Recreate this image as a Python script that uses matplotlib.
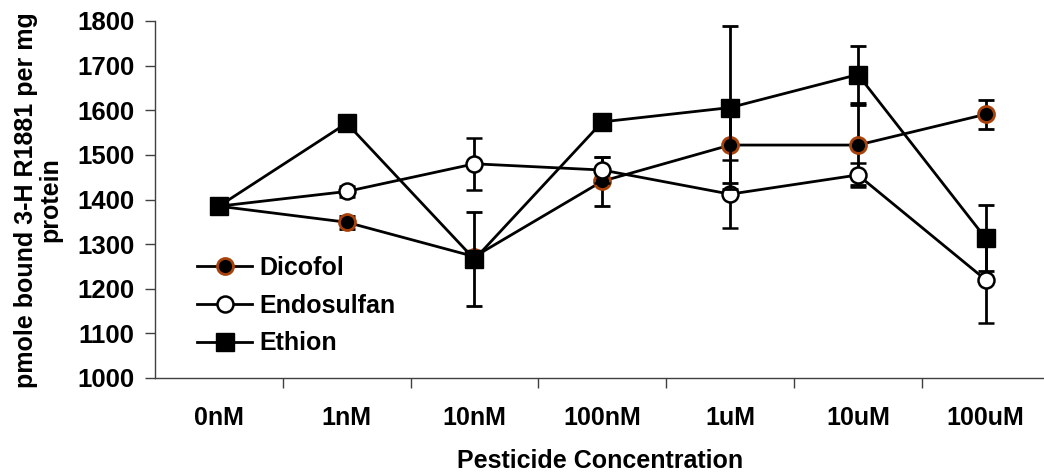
import numpy as np
import matplotlib
matplotlib.use("Agg")
from matplotlib import pyplot as plt
from matplotlib.ticker import FixedLocator
from matplotlib.lines import Line2D

plt.rcParams['font.family'] = ['Liberation Sans', 'DejaVu Sans']
plt.rcParams['font.weight'] = 'bold'

categories = ["0nM", "1nM", "10nM", "100nM", "1uM", "10uM", "100uM"]

dicofol = [1385, 1349, 1272, 1441, 1522, 1522, 1591]
dicofol_err = [5, 15, 10, 55, 85, 90, 33]

endosulfan = [1385, 1418, 1480, 1466, 1412, 1455, 1220]
endosulfan_err = [5, 12, 58, 30, 76, 27, 97]

ethion = [1385, 1571, 1266, 1574, 1606, 1680, 1313]
ethion_err = [5, 8, 105, 8, 183, 63, 74]

W, H = 1044, 472
FS = 18
fig = plt.figure(figsize=(W / 100, H / 100), dpi=100)
# axes: left spine at x=155, 1800 at y=21, 1000 at y=378; 7 slots of ~127.8 px
ax = fig.add_axes([155 / W, 1 - 378 / H, 7 * 127.8 / W, (378 - 21) / H])

x = np.arange(len(categories))

common = dict(color='black', linewidth=2.0, elinewidth=2.0, capsize=6, capthick=2.0)
dic_style = dict(marker='o', markersize=11.5, markerfacecolor='black',
                 markeredgecolor='#a8420a', markeredgewidth=2.0)
endo_style = dict(marker='o', markersize=11.5, markerfacecolor='white',
                  markeredgecolor='black', markeredgewidth=1.8)
eth_style = dict(marker='s', markersize=12.5, markerfacecolor='black',
                 markeredgecolor='black')

ax.errorbar(x, dicofol, yerr=dicofol_err, zorder=3, **dic_style, **common)
ax.errorbar(x, endosulfan, yerr=endosulfan_err, zorder=4, **endo_style, **common)
ax.errorbar(x, ethion, yerr=ethion_err, zorder=5, **eth_style, **common)

ax.set_xlim(-0.5, 6.5)
ax.set_ylim(1000, 1800)
ax.set_yticks(np.arange(1000, 1801, 100))

ax.set_xticks(x)
ax.set_xticklabels(categories)
ax.xaxis.set_minor_locator(FixedLocator(np.arange(0.5, 6.5, 1.0)))
ax.tick_params(axis='x', which='major', length=0, pad=20, labelsize=FS)
ax.tick_params(axis='x', which='minor', length=7, width=1.0, color='#404040', direction='out')
ax.tick_params(axis='y', length=7, width=1.0, color='#404040', pad=8, labelsize=FS + 0.5)

for s in ('top', 'right'):
    ax.spines[s].set_visible(False)
for s in ('left', 'bottom'):
    ax.spines[s].set_color('#404040')
    ax.spines[s].set_linewidth(1.0)

fig.text(38 / W, 1 - 200 / H, "pmole bound 3-H R1881 per mg\nprotein", rotation=90,
         ha='center', va='center', multialignment='center', fontsize=FS,
         fontweight='bold', linespacing=1.05)
fig.text(600 / W, 1 - 461 / H, "Pesticide Concentration", ha='center', va='center',
         fontsize=FS, fontweight='bold')

# legend shows markers only, no error bars
handles = [
    Line2D([], [], color='black', linewidth=2.0, **dic_style),
    Line2D([], [], color='black', linewidth=2.0, **endo_style),
    Line2D([], [], color='black', linewidth=2.0, **eth_style),
]
ax.legend(handles, ["Dicofol", "Endosulfan", "Ethion"], loc='upper left',
          bbox_to_anchor=(0.036, 0.37), frameon=False, fontsize=FS,
          handlelength=2.2, handletextpad=0.3, labelspacing=0.55, borderaxespad=0)

fig.savefig("out.png", dpi=100)
